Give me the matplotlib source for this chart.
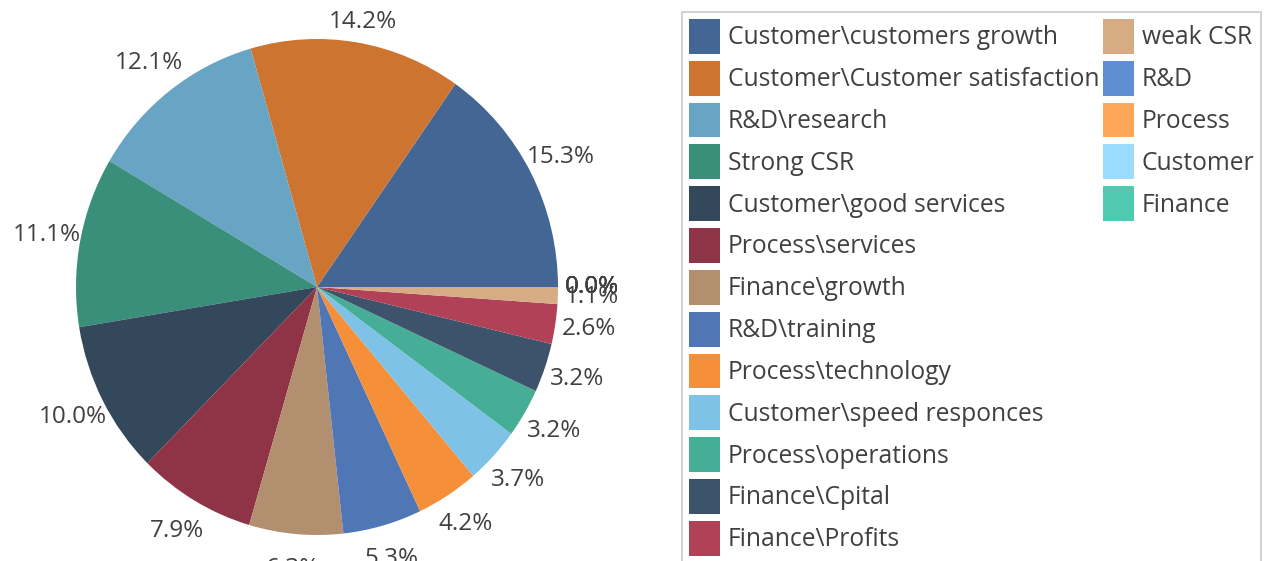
import matplotlib.pyplot as plt
import matplotlib.patches as mpatches
import numpy as np

plt.rcParams['font.family'] = ['Open Sans', 'DejaVu Sans']

categorias = [
    'Customer\\customers growth', 'Customer\\Customer satisfaction', 'R&D\\research',
    'Strong CSR', 'Customer\\good services', 'Process\\services', 'Finance\\growth',
    'R&D\\training', 'Process\\technology', 'Customer\\speed responces',
    'Process\\operations', 'Finance\\Cpital', 'Finance\\Profits', 'weak CSR',
    'R&D', 'Process', 'Customer', 'Finance',
]
valores = [15.3, 14.2, 12.1, 11.1, 10.0, 7.9, 6.3, 5.3, 4.2, 3.7,
           3.2, 3.2, 2.6, 1.1, 0.0, 0.0, 0.0, 0.0]
colores = [
    '#446695', '#CD7430', '#68A4C3', '#3A8F7A', '#33485B', '#8E3446',
    '#B28F6E', '#5077B5', '#F58F3A', '#7EC3E7', '#46AE97', '#3D536B',
    '#B04156', '#D7AC84', '#5E8FD2', '#FFA65A', '#9ADBFF', '#4FC9AF',
]

W, H = 1267, 561
fig = plt.figure(figsize=(W / 100, H / 100), dpi=100)

# pie is slightly taller than wide in the reference
cx, cy, rx, ry = 317, 287, 241, 248
ax = fig.add_axes([(cx - rx) / W, (H - cy - ry) / H, 2 * rx / W, 2 * ry / H])
wedges, _ = ax.pie(valores, colors=colores, startangle=0, counterclock=True,
                   radius=1, wedgeprops=dict(linewidth=0))
ax.set_xlim(-1, 1)
ax.set_ylim(-1, 1)
ax.set_aspect('auto')
ax.axis('off')

total = sum(valores)
dist = 1.14
y_tope = (cy - 22) / ry  # keep the top label inside the canvas
for w, v in zip(wedges, valores):
    th = np.deg2rad((w.theta1 + w.theta2) / 2)
    ax.text(dist * np.cos(th), min(dist * np.sin(th), y_tope), f'{v / total * 100:.1f}%',
            ha='center', va='center', fontsize=17.5, color='#404040', clip_on=False)

# 13 rows per column: pad with empty entries so the second column holds 5
handles = [mpatches.Patch(facecolor=col, edgecolor='none') for col in colores]
etiquetas = list(categorias)
for _ in range(26 - len(handles)):
    handles.append(mpatches.Patch(facecolor='none', edgecolor='none'))
    etiquetas.append('')

leg = fig.legend(handles, etiquetas, ncols=2, loc='upper left',
                 bbox_to_anchor=(682 / W, 1 - 12 / H), bbox_transform=fig.transFigure,
                 borderaxespad=0, fontsize=17.7, frameon=True, fancybox=False,
                 handlelength=1.26, handleheight=1.81, handletextpad=0.33,
                 labelspacing=0.28, columnspacing=0.13, borderpad=0.28,
                 labelcolor='#404040')
leg.get_frame().set_edgecolor('#BDBDBD')
leg.get_frame().set_linewidth(1.2)

fig.savefig('out.png', dpi=100)
